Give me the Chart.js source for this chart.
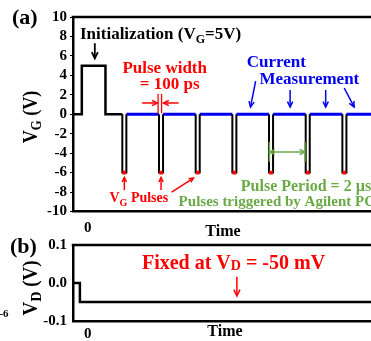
<!DOCTYPE html>
<html><head><meta charset="utf-8">
<script src="https://cdn.jsdelivr.net/npm/chart.js@4.4.1/dist/chart.umd.min.js"></script>
<style>
html,body{margin:0;padding:0;width:371px;height:341px;overflow:hidden;background:#fff;}
canvas{position:absolute;left:0;}
#c1{top:0}
#c2{top:230px}
</style></head><body>
<canvas id="c1" width="377" height="245"></canvas>
<canvas id="c2" width="377" height="111"></canvas>
<script>
// ---------- data ----------
const pulseTimes = [2, 4, 6, 8, 10, 12, 14];      // time of each VG pulse (µs)
const pulseLevel = -6;                              // VG pulse amplitude (V)
const initTimes  = [-0.8, -0.32, -0.32, 0.97, 0.97]; // initialization waveform
const initValues = [0, 0, 5, 5, 0];
const vdTimes    = [-0.8, -0.43, -0.43, 15.56];      // drain voltage waveform
const vdValues   = [0, 0, -0.05, -0.05];
const timeTicks  = [0];
const vgTicks    = [-10, -8, -6, -4, -2, 0, 2, 4, 6, 8, 10];
const vdTicks    = [-0.1, 0, 0.1];
const tMin = -0.8, tMax = 15.56;

// ---------- style constants ----------
const FF = '"Liberation Serif", "Times New Roman", serif';
const RED = '#ff0000', BLUE = '#0000f0', GREEN = '#6aaa46', BLACK = '#000';
const H = 0.11; // drawn half-width of a pulse (time units, not to scale)

// ---------- build series ----------
const initLine = initTimes.map((t, i) => ({x: t, y: initValues[i]}))
  .concat([{x: pulseTimes[0] - H, y: 0}]);
const pulseLine = [];
pulseTimes.forEach(t => {
  pulseLine.push({x: t - H, y: 0}, {x: t - H, y: pulseLevel}, {x: t + H, y: pulseLevel},
                 {x: t + H, y: 0}, {x: t + H, y: null});
});
const measLine = [];
pulseTimes.forEach((t, i) => {
  const end = i < pulseTimes.length - 1 ? pulseTimes[i + 1] - H : tMax + 1;
  measLine.push({x: t + H, y: 0}, {x: end, y: 0}, {x: end, y: null});
});
const pulseDots = pulseTimes.map(t => ({x: t, y: pulseLevel}));
const vdLine = vdTimes.map((t, i) => ({x: t, y: vdValues[i]}));

// ---------- annotation drawing ----------
function drawRuns(ctx, runs, x, y, align, color) {
  let w = 0;
  runs.forEach(r => { ctx.font = `bold ${r.s}px ${FF}`; r.w = ctx.measureText(r.t).width; w += r.w; });
  let cx = align === 'center' ? x - w / 2 : (align === 'right' ? x - w : x);
  ctx.fillStyle = color; ctx.textAlign = 'left'; ctx.textBaseline = 'alphabetic';
  runs.forEach(r => { ctx.font = `bold ${r.s}px ${FF}`; ctx.fillText(r.t, cx, y + (r.dy || 0)); cx += r.w; });
}
function arrowHead(ctx, x0, y0, x1, y1, len) {
  const a = Math.atan2(y1 - y0, x1 - x0), s = 0.45;
  ctx.beginPath();
  ctx.moveTo(x1 - len * Math.cos(a - s), y1 - len * Math.sin(a - s));
  ctx.lineTo(x1, y1);
  ctx.lineTo(x1 - len * Math.cos(a + s), y1 - len * Math.sin(a + s));
  ctx.stroke();
}
function makeAnnot(items) {
  return {
    id: 'annot',
    afterDraw(chart) {
      const {ctx, chartArea: a, scales} = chart;
      const P = p => [scales.x.getPixelForValue(p[0]), scales.y.getPixelForValue(p[1])];
      ctx.save();
      // top frame line
      ctx.strokeStyle = BLACK; ctx.lineWidth = 2.5;
      ctx.beginPath(); ctx.moveTo(a.left - 1.25, a.top); ctx.lineTo(a.right, a.top); ctx.stroke();
      items.forEach(it => {
        ctx.save();
        ctx.strokeStyle = it.color; ctx.fillStyle = it.color; ctx.lineWidth = it.w || 1.5;
        ctx.lineCap = 'butt';
        if (it.type === 'text') {
          const [x, y] = it.px ? it.px : P(it.at);
          if (it.rot) {
            ctx.translate(x, y); ctx.rotate(it.rot); ctx.scale(it.sx || 1, 1);
            drawRuns(ctx, it.runs, 0, it.base || 0, 'center', it.color);
          } else {
            ctx.translate(x, y); ctx.scale(it.sx || 1, 1);
            drawRuns(ctx, it.runs, 0, 0, it.align || 'left', it.color);
          }
        } else if (it.type === 'arrow' || it.type === 'line' || it.type === 'dbl') {
          const [x0, y0] = P(it.from), [x1, y1] = P(it.to);
          ctx.beginPath(); ctx.moveTo(x0, y0); ctx.lineTo(x1, y1); ctx.stroke();
          if (it.type !== 'line') arrowHead(ctx, x0, y0, x1, y1, it.head || 6);
          if (it.type === 'dbl') arrowHead(ctx, x1, y1, x0, y0, it.head || 6);
        }
        ctx.restore();
      });
      ctx.restore();
    }
  };
}

const T = (t, s, dy) => ({t, s, dy});

const annotA = [
  {type: 'text', px: [12, 24], color: BLACK, runs: [T('(a)', 22)]},
  {type: 'text', px: [30, 117], rot: -Math.PI / 2, base: 7, sx: 0.9, color: BLACK,
   runs: [T('V', 20), T('G', 14, 4), T(' (V)', 20)]},
  {type: 'text', at: [-0.42, 7.74], color: BLACK,
   runs: [T('Initialization (V', 17), T('G', 12, 4), T('=5V)', 17)]},
  {type: 'arrow', from: [0.39, 7.3], to: [0.39, 5.75], color: BLACK, w: 1.8, head: 7},
  {type: 'text', at: [4.2, 4.24], align: 'center', color: RED, runs: [T('Pulse width', 17)]},
  {type: 'text', at: [4.47, 2.6], align: 'center', color: RED, runs: [T('= 100 ps', 17)]},
  {type: 'arrow', from: [2.97, 1.16], to: [3.8, 1.16], color: RED, head: 6},
  {type: 'arrow', from: [4.96, 1.16], to: [4.13, 1.16], color: RED, head: 6},
  {type: 'line', from: [3.84, 2.1], to: [3.84, 0.1], color: RED, w: 1.3},
  {type: 'line', from: [4.03, 2.1], to: [4.03, 0.1], color: RED, w: 1.3},
  {type: 'text', at: [8.67, 4.86], color: BLUE, runs: [T('Current', 17)]},
  {type: 'text', at: [9.37, 3.11], color: BLUE, runs: [T('Measurement', 17)]},
  {type: 'arrow', from: [9.16, 3.4], to: [8.88, 0.75], color: BLUE},
  {type: 'arrow', from: [11.04, 2.5], to: [11.04, 0.75], color: BLUE},
  {type: 'arrow', from: [12.98, 2.5], to: [12.98, 0.75], color: BLUE},
  {type: 'arrow', from: [13.99, 2.7], to: [14.53, 0.75], color: BLUE},
  {type: 'text', at: [1.19, -9.02], color: RED, runs: [T('V', 14), T('G', 10, 4), T(' Pulses', 14)]},
  {type: 'arrow', from: [2, -7.8], to: [2, -6.5], color: RED, head: 5},
  {type: 'arrow', from: [4, -7.8], to: [4, -6.5], color: RED, head: 5},
  {type: 'arrow', from: [4.58, -8.0], to: [5.77, -6.56], color: RED, head: 5},
  {type: 'dbl', from: [9.91, -3.88], to: [11.85, -3.88], color: GREEN, head: 6},
  {type: 'line', from: [9.91, -2.85], to: [9.91, -4.9], color: GREEN},
  {type: 'line', from: [11.85, -2.85], to: [11.85, -4.9], color: GREEN},
  {type: 'text', at: [8.35, -7.89], color: GREEN, runs: [T('Pulse Period = 2 µs', 16)]},
  {type: 'text', at: [4.96, -9.43], color: GREEN, runs: [T('Pulses triggered by Agilent PG', 15)]}
];
const annotB = [
  {type: 'text', px: [10, 23], color: BLACK, runs: [T('(b)', 22)]},
  {type: 'text', px: [30, 58], rot: -Math.PI / 2, base: 7, sx: 0.95, color: BLACK,
   runs: [T('V', 20), T('D', 15, 4), T(' (V)', 20)]},
  {type: 'text', px: [4, 87], align: 'center', color: BLACK, runs: [T('-6', 11)]},
  {type: 'text', at: [2.91, 0.0367], color: RED,
   runs: [T('Fixed at V', 20), T('D', 14, 1), T(' = -50 mV', 20)]},
  {type: 'arrow', from: [8.02, 0.0165], to: [8.02, -0.034], color: RED, head: 7}
];

// ---------- charts ----------
Chart.defaults.font.family = FF;
Chart.defaults.font.weight = 'bold';
Chart.defaults.color = BLACK;

function xScale(tickPad, titlePad, height) {
  return {
    type: 'linear', min: tMin, max: tMax,
    afterBuildTicks: s => { s.ticks = timeTicks.map(v => ({value: v})); },
    afterFit: s => { s.height = height; },
    grid: {display: false, drawTicks: false},
    border: {display: true, color: BLACK, width: 2.5},
    ticks: {font: {size: 15, weight: 'bold'}, padding: tickPad, maxRotation: 0, autoSkip: false, color: BLACK},
    title: {display: true, text: 'Time', font: {size: 16, weight: 'bold'}, color: BLACK,
            padding: {top: 0, bottom: titlePad}}
  };
}
function yScale(min, max, ticks, fmt, tickLen) {
  return {
    type: 'linear', min, max,
    afterBuildTicks: s => { s.ticks = ticks.map(v => ({value: v})); },
    afterFit: s => { s.width = 73; },
    grid: {display: true, drawOnChartArea: false, drawTicks: tickLen > 0, tickLength: tickLen,
           color: BLACK, lineWidth: 1},
    border: {display: true, color: BLACK, width: 2.5},
    ticks: {font: {size: 15, weight: 'bold'}, padding: 6 - tickLen, autoSkip: false, color: BLACK, callback: fmt}
  };
}
const lineDs = (data, color, width, extra) => Object.assign({
  data, borderColor: color, borderWidth: width, pointRadius: 0, tension: 0,
  spanGaps: false, fill: false, borderJoinStyle: 'miter'
}, extra || {});

new Chart(document.getElementById('c1'), {
  type: 'line',
  data: {datasets: [
    lineDs(pulseDots, RED, 0, {showLine: false, pointRadius: 2.6, pointStyle: 'rect',
                               pointBackgroundColor: RED, pointBorderWidth: 0}),
    lineDs(pulseLine, BLACK, 2),
    lineDs(initLine, BLACK, 2.5),
    lineDs(measLine, BLUE, 3.2)
  ]},
  options: {
    responsive: false, animation: false, parsing: true,
    layout: {padding: {top: 17, left: 0, right: 0, bottom: 0}},
    plugins: {legend: {display: false}, tooltip: {enabled: false}},
    scales: {
      x: xScale(8, 4, 33.5),
      y: yScale(-10, 10, vgTicks, v => String(v), 3)
    }
  },
  plugins: [makeAnnot(annotA)]
});

new Chart(document.getElementById('c2'), {
  type: 'line',
  data: {datasets: [lineDs(vdLine, BLACK, 2.5)]},
  options: {
    responsive: false, animation: false,
    layout: {padding: {top: 12, left: 0, right: 0, bottom: 0}},
    plugins: {legend: {display: false}, tooltip: {enabled: false}},
    scales: {
      x: xScale(4, 0, 20),
      y: yScale(-0.1, 0.1, vdTicks, v => v.toFixed(1), 0)
    }
  },
  plugins: [makeAnnot(annotB)]
});
</script>
</body></html>
